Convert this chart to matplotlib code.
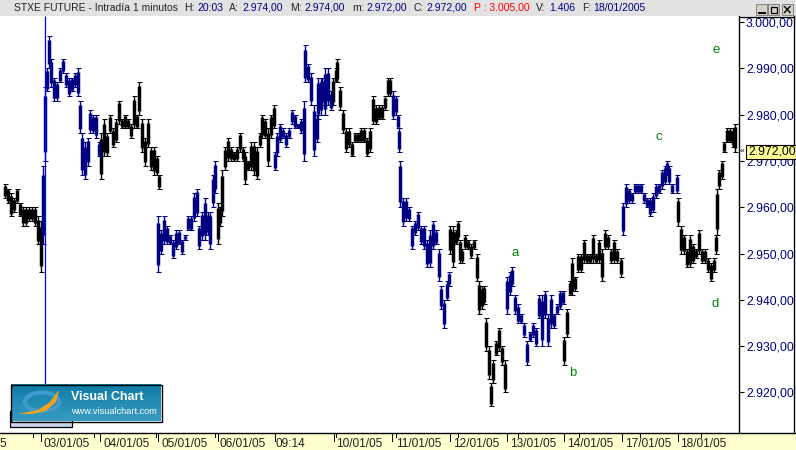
import numpy as np
import matplotlib
matplotlib.use("Agg")
import matplotlib.pyplot as plt
from matplotlib.patches import Rectangle, Ellipse, Polygon

plt.rcParams['font.family'] = ['Liberation Sans', 'DejaVu Sans']

price_ticks = [3000, 2990, 2980, 2970, 2960, 2950, 2940, 2930, 2920]
price_labels = ['3.000,00', '2.990,00', '2.980,00', '2.970,00', '2.960,00', '2.950,00', '2.940,00', '2.930,00', '2.920,00']

black_t = [5,8,11,14,17,20,23,26,29,32,35,38,41,
 101,104,107,110,113,116,119,122,125,128,131,134,137,139,142,145,148,151,154,157,159,
 218,220,222,225,228,231,234,237,240,243,245,248,251,254,257,260,262,265,268,271,274,
 333,336,337,340,343,346,349,352,355,358,361,364,367,370,373,376,379,382,385,388,390,
 450,453,456,458,460,462,465,468,471,474,477,479,482,484,486,489,491,493,496,499,502,505,
 564,567,570,572,575,578,581,584,587,590,593,596,599,602,605,608,611,614,617,621,
 678,681,684,687,690,693,696,699,702,705,708,711,714,716,717,719,722,724,727,730,733,735]
black_hi = [2965,2964,2963,2962,2964,2961,2960,2960,2960,2960,2960,2958,2957,
 2976,2979,2976,2980,2977,2979,2983,2979,2980,2979,2978,2984,2980,2987,2979,2975,2979,2973,2973,2971,2967,
 2961,2960,2968,2973,2975,2973,2972,2973,2976,2973,2972,2970,2974,2974,2973,2976,2980,2979,2977,2980,2982,
 2988,2990,2992,2986,2981,2977,2977,2974,2976,2976,2977,2977,2975,2977,2984,2982,2982,2982,2984,2988,2988,
 2956,2956,2955,2957,2953,2951,2954,2953,2952,2953,2950,2944,2943,2943,2936,2930,2922,2927,2931,2934,2930,2927,
 2932,2938,2944,2949,2945,2950,2950,2953,2950,2950,2954,2950,2953,2951,2955,2954,2951,2953,2951,2949,
 2962,2956,2954,2951,2954,2952,2951,2955,2951,2951,2949,2948,2949,2954,2964,2968,2970,2974,2977,2977,2977,2978]
black_lo = [2962,2961,2958,2959,2961,2958,2956,2956,2957,2957,2956,2952,2946,
 2966,2971,2971,2976,2973,2974,2978,2977,2977,2977,2975,2977,2977,2980,2972,2969,2973,2968,2967,2967,2964,
 2952,2956,2958,2968,2970,2970,2970,2970,2972,2970,2965,2968,2968,2967,2966,2973,2975,2975,2969,2975,2977,
 2982,2987,2987,2981,2976,2972,2973,2971,2974,2974,2974,2974,2971,2972,2978,2978,2979,2979,2981,2984,2984,
 2950,2947,2952,2953,2948,2948,2951,2951,2949,2951,2944,2937,2938,2939,2929,2923,2917,2922,2928,2929,2926,2920,
 2926,2932,2941,2941,2942,2946,2946,2948,2948,2948,2948,2948,2948,2944,2951,2951,2948,2948,2948,2945,
 2956,2950,2950,2947,2947,2948,2949,2950,2948,2948,2946,2944,2946,2950,2954,2964,2966,2972,2974,2974,2973,2972]

blue_t = [43,45,47,49,51,54,57,60,63,66,69,72,75,78,80,82,85,88,90,93,96,99,
 158,161,164,167,170,173,176,179,182,185,188,191,194,197,199,202,205,208,210,213,215,
 275,277,280,283,286,289,292,295,298,301,304,305,308,311,314,317,318,321,322,325,328,331,
 393,396,398,399,400,403,406,409,412,415,418,421,424,427,430,433,436,439,441,444,447,449,
 507,510,512,515,518,521,524,527,530,533,536,539,542,545,548,551,554,557,560,563,
 623,626,629,632,635,638,641,644,647,650,653,656,659,662,665,667,669,672,677]
blue_hi = [2969,2986,2990,2997,2992,2988,2987,2990,2992,2989,2988,2988,2989,2990,2983,2976,2974,2975,2981,2980,2980,2974,
 2958,2955,2958,2956,2954,2953,2955,2955,2953,2954,2958,2958,2963,2964,2956,2959,2962,2959,2959,2967,2970,
 2972,2976,2978,2977,2976,2977,2981,2980,2978,2979,2983,2995,2991,2989,2982,2980,2988,2988,2988,2990,2990,2985,
 2985,2984,2980,2977,2970,2962,2962,2960,2956,2957,2959,2956,2956,2953,2955,2957,2955,2951,2943,2940,2944,2946,
 2945,2946,2947,2941,2939,2937,2935,2931,2933,2935,2934,2941,2941,2942,2937,2941,2937,2939,2942,2942,
 2961,2965,2964,2963,2965,2965,2965,2963,2962,2962,2963,2965,2965,2968,2969,2970,2969,2965,2967]
blue_lo = [2952,2970,2985,2990,2986,2983,2983,2987,2989,2986,2984,2985,2986,2984,2976,2967,2966,2969,2976,2976,2975,2971,
 2946,2950,2952,2952,2952,2949,2951,2952,2950,2953,2955,2955,2957,2958,2951,2953,2953,2954,2951,2960,2963,
 2968,2971,2974,2975,2973,2975,2978,2977,2977,2976,2970,2987,2987,2982,2971,2974,2979,2980,2982,2980,2982,2981,
 2979,2980,2977,2972,2960,2956,2957,2957,2951,2954,2955,2952,2951,2947,2947,2951,2952,2944,2938,2934,2940,2943,
 2937,2941,2943,2937,2935,2935,2932,2926,2931,2932,2930,2936,2930,2936,2930,2934,2934,2937,2938,2939,
 2954,2960,2961,2961,2963,2963,2963,2961,2960,2958,2959,2962,2963,2964,2965,2967,2965,2963,2963]

date_labels = ['03/01/05','04/01/05','05/01/05','06/01/05','09:14','10/01/05','11/01/05','12/01/05','13/01/05','14/01/05','17/01/05','18/01/05']
date_long = [41,100,158,218,275,334,392,450,507,564,622,678]
date_short = [33,94,156,215,336,396,458,518,579,640,701]

fig = plt.figure(figsize=(7.96, 4.50), dpi=100, facecolor='white')
W, H = 796, 450
ax = fig.add_axes([0, (H-433)/H, 739/W, 417/H])
ax.set_xlim(0, 739)
ax.set_ylim(3000-(433-22)/4.63, 3000+(22-16)/4.63)

for t, hi, lo, col in [(black_t, black_hi, black_lo, 'black'), (blue_t, blue_hi, blue_lo, '#000080')]:
    t = np.array(t); hi = np.array(hi); lo = np.array(lo)
    ax.vlines(t, lo, hi, color=col, lw=1.0, zorder=3)
    ax.hlines(hi, t-2.5, t+2.5, color=col, lw=0.75, zorder=3)
    ax.hlines(lo, t-2.5, t+2.5, color=col, lw=0.75, zorder=3)
    core_lo = lo + 0.12*(hi-lo)
    core_hi = hi - 0.12*(hi-lo)
    ax.vlines(t, core_lo, core_hi, color=col, lw=2.5, zorder=3)
ax.vlines(44.5, (385-433)/-4.63+ax.get_ylim()[0], ax.get_ylim()[1], color='#0000ff', lw=0.9, zorder=4)

ax.set_xticks([])
ax.yaxis.tick_right()
ax.set_yticks(price_ticks)
ax.set_yticklabels(price_labels, color='#000080', fontsize=8.7)
ax.tick_params(axis='y', length=3.5, width=0.8, pad=1.5, color='black')
for s in ['top', 'left', 'bottom']:
    ax.spines[s].set_visible(False)
ax.spines['right'].set_linewidth(1.0)

ov = fig.add_axes([0, 0, 1, 1], zorder=5)
ov.set_xlim(0, W); ov.set_ylim(H, 0); ov.axis('off'); ov.patch.set_alpha(0)

# header
ov.add_patch(Rectangle((0, 0), W, 16, fc='#e2e2e2', ec='none'))
hdr = [(14,'STXE FUTURE - Intradía 1 minutos','#222222'),(184,'H:','#222222'),(197,'20:03','#000080'),
       (229,'A:','#222222'),(242,'2.974,00','#000080'),(290,'M:','#222222'),(304,'2.974,00','#000080'),
       (352,'m:','#222222'),(366,'2.972,00','#000080'),(414,'C:','#222222'),(426,'2.972,00','#000080'),
       (474,'P : 3.005,00','#ff0000'),(536,'V:','#222222'),(549,'1.406','#000080'),(582,'F:','#222222'),(593,'18/01/2005','#000080')]
for x, s, c in hdr:
    ov.text(x, 8, s, color=c, fontsize=7.5, va='center', ha='left')
for x in (756, 768, 782):
    ov.add_patch(Rectangle((x, 4), 11, 11, fc='#d4d0c8', ec='#777777', lw=0.6))
ov.plot([758.5, 764.5], [12.5, 12.5], color='black', lw=1.4)
ov.add_patch(Rectangle((770.5, 6.5), 6, 6, fc='none', ec='black', lw=0.9))
ov.plot([784.5, 790], [6.5, 12.5], color='black', lw=1.0)
ov.plot([784.5, 790], [12.5, 6.5], color='black', lw=1.0)

# right frame
ov.plot([793.5, 793.5], [16, 433], color='black', lw=1.0)
ov.plot([739, 794], [16.5, 16.5], color='black', lw=1.0)

# bottom band
ov.add_patch(Rectangle((0, 433), W, 17, fc='#ffffcf', ec='none'))
ov.plot([0, 796], [432.5, 432.5], color='black', lw=1.0)
for x in date_long:
    ov.plot([x, x], [433, 441], color='black', lw=0.7)
for x in date_short:
    ov.plot([x, x], [433, 437], color='black', lw=0.7)
ov.text(0, 444, '5', fontsize=8.6, va='center', ha='left', color='#222222')
label_x = [44, 103, 161, 220, 276, 336, 396, 453, 510, 567, 625, 680]
for x, s in zip(label_x, date_labels):
    ov.text(x, 444, s, fontsize=8.6, va='center', ha='left', color='#222222')

# last price box
ov.add_patch(Rectangle((746, 145), 49.5, 14, fc='#ffff99', ec='black', lw=0.8, zorder=6))
ov.text(748, 152, '2.972,00', fontsize=8.7, va='center', ha='left', color='black', zorder=7)
ov.text(742, 152, '«', fontsize=6, va='center', ha='center', color='black', zorder=7)

# wave labels
for s, x, y in [('a',515,253),('b',573,373),('c',659,137),('d',715,304),('e',716,50)]:
    ov.text(x, y, s, color='#008000', fontsize=9.5, ha='center', va='center')

# logo
ov.add_patch(Rectangle((9.5, 411), 62, 16, fc='#c9d4ee', ec='black', lw=0.9, zorder=6))
grad = np.linspace(0, 1, 40)[:, None]
cols = np.array([14, 125, 168])[None, None, :] * (1 - grad[..., None]) + np.array([58, 155, 192])[None, None, :] * grad[..., None]
ov.imshow(cols.astype(np.uint8), extent=(11, 161, 421, 384), aspect='auto', zorder=7)
ov.set_xlim(0, W); ov.set_ylim(H, 0)
ov.add_patch(Rectangle((10.5, 384.5), 151, 37, fc='none', ec='black', lw=1.0, zorder=8))
ov.add_patch(Ellipse((42, 402), 34, 19, fc='none', ec='#3f9ad0', lw=3, zorder=8))
ov.add_patch(Polygon([[18,414],[38,410],[50,402],[58,391],[59,391],[56,402],[46,411],[32,414]], fc='#eea21f', ec='none', zorder=9))
ov.text(71, 396.5, 'Visual Chart', color='white', fontsize=8.9, fontweight='bold', va='center', ha='left', zorder=9)
ov.text(71, 411, 'www.visualchart.com', color='white', fontsize=6.6, va='center', ha='left', zorder=9)

fig.savefig('out.png', dpi=100)
